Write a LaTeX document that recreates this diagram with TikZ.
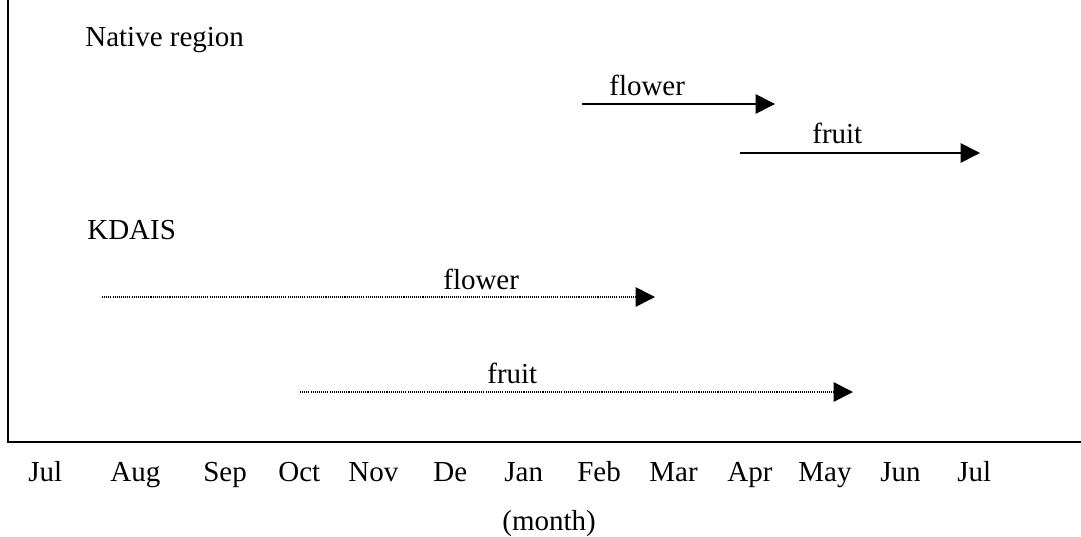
\documentclass[tikz,border=0pt]{standalone}
\usepackage{fontspec}
\setmainfont{Liberation Serif}
\usetikzlibrary{arrows.meta, positioning}
\tikzset
{%
axis/.style={line width=1.3pt},
period/.style={-{Triangle[length=11pt, width=11pt]}, line width=0.9pt},
guess/.style={period, dash pattern=on 0.6pt off 0.6pt},
lbl/.style={inner sep=0pt, anchor=base west, font=\fontsize{16.5}{19}\selectfont}
}
\begin{document}
\begin{tikzpicture}[x=0.02cm, y=-0.02cm]
		\useasboundingbox (0,0) rectangle (1081,537);
		
		%Axis
		\coordinate (top) at (8,0);
		\coordinate (o) at (8,442);
		\coordinate (end) at (1081,442);
		\draw[axis] (top) -- (o) -- (end);
		\foreach \x/\mon [count=\i] in {28/Jul, 110/Aug, 203/Sep, 278/Oct, 348/Nov, 433/De, 504/Jan, 577/Feb, 649/Mar, 727/Apr, 798/May, 880/Jun, 957/Jul}
			\node[lbl] (m\i) at (\x,481) {\mon};
		\node[lbl] (unit) at (502,530) {(month)};
		
		%Native region
		\node[lbl] (native) at (85,47) {Native region};
		\coordinate (nf1) at (582,104);
		\coordinate (nf2) at (775,104);
		\node[lbl] (nflower) at (609,95) {flower};
		\coordinate (nr1) at (740,153);
		\coordinate (nr2) at (980,153);
		\node[lbl] (nfruit) at (812,143) {fruit};
		\draw[period] (nf1) -- (nf2);
		\draw[period] (nr1) -- (nr2);
		
		%KDAIS
		\node[lbl] (kdais) at (87,239) {KDAIS};
		\coordinate (kf1) at (102,297);
		\coordinate (kf2) at (655,297);
		\node[lbl] (kflower) at (443,289) {flower};
		\coordinate (kr1) at (300,392);
		\coordinate (kr2) at (853,392);
		\node[lbl] (kfruit) at (487,383) {fruit};
		\draw[guess] (kf1) -- (kf2);
		\draw[guess] (kr1) -- (kr2);
	\end{tikzpicture}
\end{document}
